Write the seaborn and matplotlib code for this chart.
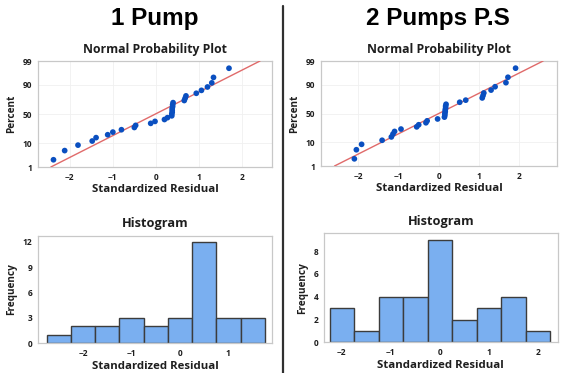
import numpy as np
import pandas as pd
import matplotlib
matplotlib.use("Agg")
import matplotlib.pyplot as plt
import seaborn as sns
from statistics import NormalDist

# ---------------- data ----------------
PANEL_TITLES = ["1 Pump", "2 Pumps P.S"]
RESID_1 = [-2.38, -2.12, -1.81, -1.48, -1.39, -1.12, -1.00, -0.80, -0.50, -0.47,
           -0.12, -0.02, 0.20, 0.27, 0.37, 0.37, 0.38, 0.38, 0.38, 0.39, 0.39,
           0.40, 0.66, 0.68, 0.70, 0.94, 1.06, 1.20, 1.30, 1.34, 1.70]
RESID_2 = [-2.10, -2.05, -1.92, -1.41, -1.18, -1.14, -1.10, -0.94, -0.55, -0.50,
           -0.32, -0.29, -0.03, 0.14, 0.15, 0.15, 0.16, 0.16, 0.17, 0.17, 0.18,
           0.52, 0.67, 1.08, 1.10, 1.12, 1.30, 1.40, 1.67, 1.72, 1.91]
FIT_MEAN = [-0.01, 0.00]
FIT_SD = [1.045, 1.115]
PCT_TICKS = [1, 10, 50, 90, 99]
PROB_XTICKS = [-2, -1, 0, 1, 2]
HIST_BIN_START = [-2.75, -2.25]
HIST_BIN_COUNT = 9
HIST_BIN_WIDTH = 0.5
HIST_XTICKS = [[-2, -1, 0, 1], [-2, -1, 0, 1, 2]]
HIST_YTICKS = [[0, 3, 6, 9, 12], [0, 2, 4, 6, 8]]

# ---------------- style ----------------
sns.set_theme(style="white")
plt.rcParams["font.family"] = ["Open Sans", "DejaVu Sans"]

BLUE = "#0a4fc0"
RED = "#e06a6a"
BAR = "#7aaff0"
EDGE = "#3c3c3c"
FRAME = "#c8c8c8"
TXT = "#1e1e1e"

_nd = NormalDist()
_ppf = np.vectorize(_nd.inv_cdf, otypes=[float])
_cdf = np.vectorize(_nd.cdf, otypes=[float])


def fwd(p):
    p = np.clip(np.asarray(p, float), 0.001, 99.999) / 100.0
    return _ppf(p)


def inv(z):
    return 100.0 * _cdf(np.asarray(z, float))


fig = plt.figure(figsize=(5.67, 3.73), dpi=100)
W, H = 567.0, 373.0


def ax_at(x0, y0, x1, y1):
    return fig.add_axes([x0 / W, 1 - y1 / H, (x1 - x0) / W, (y1 - y0) / H])


prob_boxes = [(38, 61, 272, 167), (321, 61, 557, 166)]
hist_boxes = [(38, 235.7, 272, 343.3), (323.7, 233, 558, 342.3)]
prob_xlim = [(-2.74, 2.70), (-2.93, 2.94)]
hist_xlim = [(-2.93, 1.90), (-2.37, 2.41)]
hist_ylim = [(0, 12.7), (0, 9.6)]
title_x = [155, 438]

datasets = [RESID_1, RESID_2]


def style_frame(ax):
    for s in ax.spines.values():
        s.set_visible(True)
        s.set_color(FRAME)
        s.set_linewidth(0.9)
    ax.tick_params(axis="both", which="major", length=2.5, width=0.6, color=FRAME,
                   labelsize=6, labelcolor=TXT, pad=1.5)
    for lab in ax.get_xticklabels() + ax.get_yticklabels():
        lab.set_fontweight("bold")


for i in range(2):
    resid = np.sort(np.asarray(datasets[i], float))
    n = len(resid)
    rank = np.arange(1, n + 1)
    pct = 100.0 * (rank - 0.3) / (n + 0.4)
    df = pd.DataFrame({"resid": resid, "pct": pct})

    # ---- normal probability plot ----
    ax = ax_at(*prob_boxes[i])
    ax.set_yscale("function", functions=(fwd, inv))
    ax.set_ylim(1, 99)
    ax.set_xlim(*prob_xlim[i])
    ax.grid(True, color="#f0f0f0", linewidth=0.6)
    line_p = np.array([1.0, 99.0])
    line_x = FIT_MEAN[i] + FIT_SD[i] * fwd(line_p)
    sns.lineplot(x=line_x, y=line_p, ax=ax, color=RED, linewidth=1.0, zorder=3)
    sns.scatterplot(data=df, x="resid", y="pct", ax=ax, color=BLUE, s=17,
                    edgecolor="none", zorder=4)
    ax.set_yticks(PCT_TICKS)
    ax.set_yticklabels([str(t) for t in PCT_TICKS])
    ax.minorticks_off()
    ax.set_xticks(PROB_XTICKS)
    style_frame(ax)
    ax.set_xlabel("Standardized Residual", fontsize=8.2, fontweight="bold",
                  color=TXT, labelpad=2)
    ax.set_ylabel("Percent", fontsize=7.2, fontweight="bold", color=TXT, labelpad=4)
    ax.set_title("Normal Probability Plot", fontsize=8.8, fontweight="bold",
                 color=TXT, pad=6)

    # ---- histogram ----
    hx = ax_at(*hist_boxes[i])
    bins = HIST_BIN_START[i] + HIST_BIN_WIDTH * np.arange(HIST_BIN_COUNT + 1)
    sns.histplot(data=df, x="resid", bins=bins, ax=hx, color=BAR, alpha=1.0,
                 edgecolor=EDGE, linewidth=1.0)
    hx.set_xlim(*hist_xlim[i])
    hx.set_ylim(*hist_ylim[i])
    hx.set_xticks(HIST_XTICKS[i])
    hx.set_yticks(HIST_YTICKS[i])
    style_frame(hx)
    hx.set_xlabel("Standardized Residual", fontsize=8.2, fontweight="bold",
                  color=TXT, labelpad=2.5)
    hx.set_ylabel("Frequency", fontsize=7.2, fontweight="bold", color=TXT, labelpad=4)
    hx.set_title("Histogram", fontsize=9.2, fontweight="bold", color=TXT, pad=6)

    # ---- big panel title ----
    fig.text(title_x[i] / W, 1 - 18 / H, PANEL_TITLES[i], ha="center", va="center",
             fontsize=17.5, fontweight="bold", color="black",
             family=["Liberation Sans", "DejaVu Sans"])

# separator line
fig.add_artist(plt.Line2D([282.5 / W, 282.5 / W], [0, 1 - 6 / H],
                          transform=fig.transFigure, color="#303030", linewidth=1.6))

fig.savefig("out.png", dpi=100)
